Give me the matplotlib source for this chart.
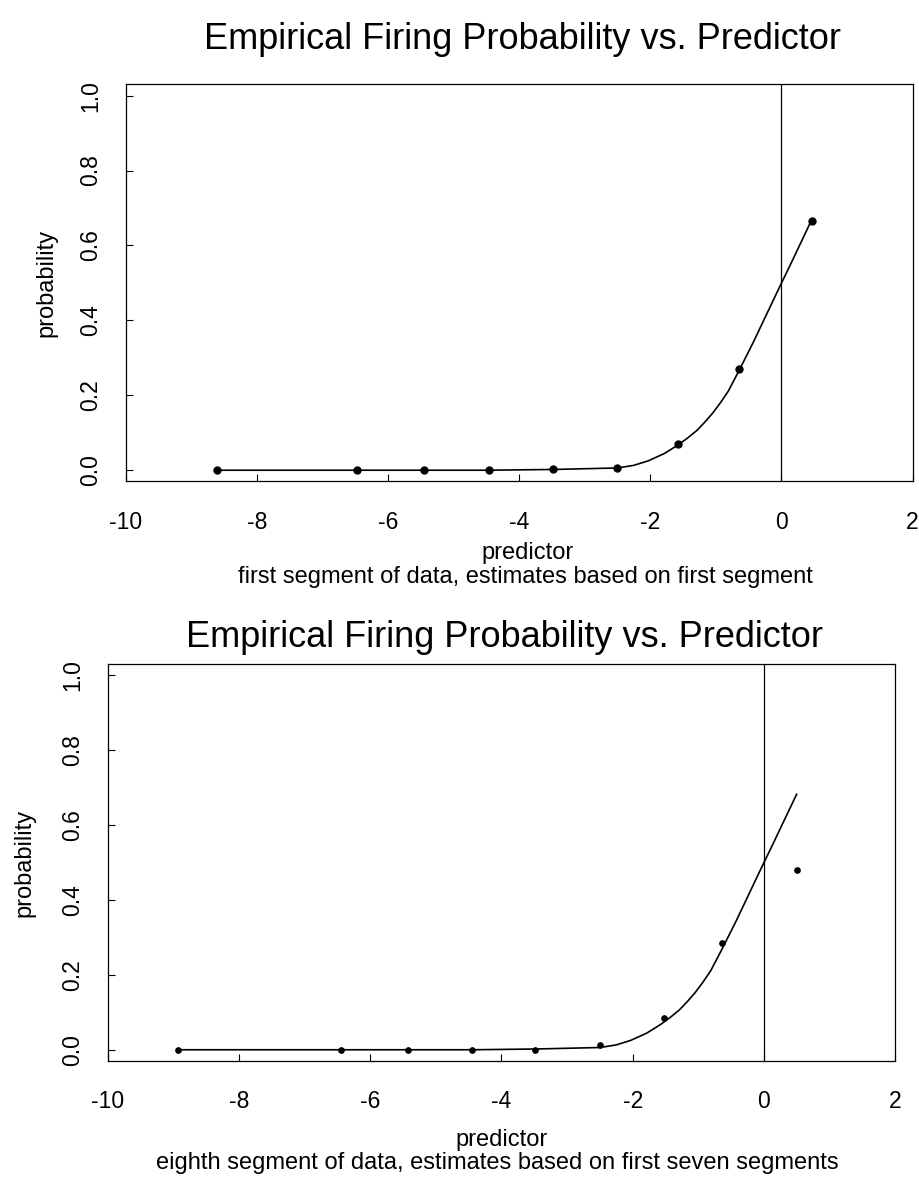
#! /usr/bin/env python3
# coding=utf-8
import matplotlib
matplotlib.use('Agg')
import matplotlib.pyplot as plt

# 数据: 经验放电概率 (点) 和拟合曲线
top_x = [-8.6, -6.47, -5.45, -4.46, -3.48, -2.50, -1.57, -0.64, 0.46]
top_prob = [0.0, 0.0, 0.0, 0.0, 0.003, 0.005, 0.070, 0.271, 0.665]
fit_top_x = [-8.6, -6.47, -5.45, -4.46, -3.48, -2.5, -2.25, -2.03, -1.78, -1.57,
             -1.43, -1.29, -1.17, -1.05, -0.93, -0.81, -0.64, -0.43, -0.24, -0.02,
             0.13, 0.32, 0.46]
fit_top_y = [0.0, 0.0, 0.0, 0.0, 0.002, 0.006, 0.013, 0.025, 0.045, 0.068,
             0.086, 0.106, 0.128, 0.152, 0.180, 0.211, 0.268, 0.341, 0.411, 0.492,
             0.546, 0.616, 0.668]

bot_x = [-8.93, -6.45, -5.43, -4.45, -3.49, -2.50, -1.52, -0.64, 0.50]
bot_prob = [0.0, 0.0, 0.0, 0.0, 0.0, 0.013, 0.086, 0.285, 0.481]
fit_bot_x = [-8.93, -6.45, -5.43, -4.45, -3.49, -2.5, -2.25, -2.03, -1.78, -1.57,
             -1.43, -1.29, -1.17, -1.05, -0.93, -0.81, -0.64, -0.43, -0.24, -0.02,
             0.13, 0.32, 0.50]
fit_bot_y = [0.0, 0.0, 0.0, 0.0, 0.002, 0.006, 0.013, 0.025, 0.045, 0.068,
             0.086, 0.106, 0.128, 0.152, 0.180, 0.211, 0.268, 0.341, 0.411, 0.492,
             0.546, 0.616, 0.682]

x_ticks = [-10, -8, -6, -4, -2, 0, 2]
y_ticks = [0.0, 0.2, 0.4, 0.6, 0.8, 1.0]
title = 'Empirical Firing Probability vs. Predictor'
captions = ['first segment of data, estimates based on first segment',
            'eighth segment of data, estimates based on first seven segments']

plt.rcParams['font.family'] = ['Liberation Sans', 'DejaVu Sans']

fig = plt.figure(figsize=(9.19, 11.92), dpi=100)
ax1 = fig.add_axes([0.1366, 0.5961, 0.8564, 0.3331])
ax2 = fig.add_axes([0.1175, 0.1099, 0.8564, 0.3331])

panels = [
    (ax1, top_x, top_prob, fit_top_x, fit_top_y, 5.0,
     (0.504, 1.112), (0.511, -0.180), (0.508, -0.2406), -0.100),
    (ax2, bot_x, bot_prob, fit_bot_x, fit_bot_y, 3.8,
     (0.5044, 1.0655), (0.5, -0.199), (0.4943, -0.2557), -0.1067),
]

for i, (ax, px, py, fx, fy, ms, t_pos, xl_pos, cap_pos, yl_x) in enumerate(panels):
    ax.plot(fx, fy, color='black', linewidth=1.2)
    ax.plot(px, py, 'o', color='black', markersize=ms)
    ax.axvline(0, color='black', linewidth=0.9)
    ax.set_xlim(-10, 2)
    ax.set_ylim(-0.03, 1.03)
    ax.set_xticks(x_ticks)
    ax.set_xticklabels([str(v) for v in x_ticks])
    ax.set_yticks(y_ticks)
    ax.set_yticklabels(['%.1f' % v for v in y_ticks], rotation=90, va='center')
    ax.tick_params(axis='both', direction='in', length=5, width=0.8)
    ax.tick_params(axis='x', labelsize=16.5, pad=21)
    ax.tick_params(axis='y', labelsize=16.5, pad=17)
    for sp in ax.spines.values():
        sp.set_linewidth(0.9)
    ax.text(t_pos[0], t_pos[1], title, transform=ax.transAxes, ha='center', va='center', fontsize=26)
    ax.text(xl_pos[0], xl_pos[1], 'predictor', transform=ax.transAxes, ha='center', va='center', fontsize=17)
    ax.text(cap_pos[0], cap_pos[1], captions[i], transform=ax.transAxes, ha='center', va='center', fontsize=17)
    ax.text(yl_x, 0.5, 'probability', transform=ax.transAxes, ha='center', va='center',
            rotation=90, fontsize=17)

fig.savefig('out.png', dpi=100)
